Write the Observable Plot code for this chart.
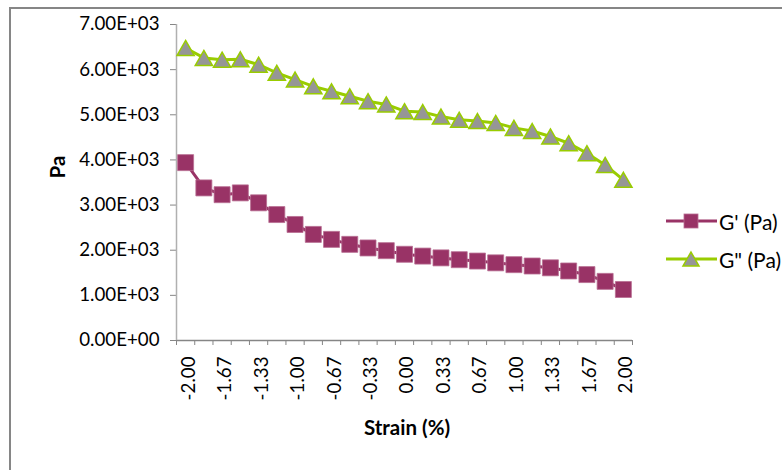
<!DOCTYPE html>
<html>
<head>
<meta charset="utf-8">
<script src="https://cdn.jsdelivr.net/npm/d3@7"></script>
<script src="https://cdn.jsdelivr.net/npm/@observablehq/plot@0.6"></script>
<style>
  html, body { margin: 0; padding: 0; background: #fff; overflow: hidden; }
  #wrap { position: relative; width: 782px; height: 470px; overflow: hidden; font-family: Lato, "Open Sans", sans-serif; color: #000; }
  #frame { position: absolute; left: 9px; top: 7px; width: 900px; height: 600px; border-left: 2px solid #868686; border-top: 2px solid #868686; }
  #chart { position: absolute; left: 0; top: 0; }
  .ytitle { position: absolute; left: 57px; top: 167px; transform: translate(-50%, -50%) rotate(-90deg); font-weight: bold; font-size: 20.5px; white-space: nowrap; }
  .xtitle { position: absolute; left: 407px; top: 427px; transform: translate(-50%, -50%); font-weight: bold; font-size: 20.5px; white-space: nowrap; }
  .legend { position: absolute; left: 666px; font-size: 21px; }
  .legend .row { position: absolute; left: 0; display: flex; align-items: center; white-space: nowrap; }
  .legend svg { display: block; }
  .legend span { margin-left: 2px; }
</style>
</head>
<body>
<div id="wrap">
  <div id="frame"></div>
  <div id="chart"></div>
  <div class="ytitle">Pa</div>
  <div class="xtitle">Strain (%)</div>
  <div class="legend" id="legend"></div>
</div>
<script>
// Category labels (strain, %)
const strainLabels = ["-2.00","-1.83","-1.67","-1.50","-1.33","-1.17","-1.00","-0.83","-0.67","-0.50","-0.33","-0.17","0.00","0.17","0.33","0.50","0.67","0.83","1.00","1.17","1.33","1.50","1.67","1.83","2.00"];
// G' (Pa) storage modulus
const gPrime = [3940,3380,3230,3270,3050,2790,2570,2350,2240,2130,2050,1990,1910,1870,1830,1790,1760,1720,1680,1650,1610,1540,1460,1310,1130];
// G'' (Pa) loss modulus
const gDoublePrime = [6480,6260,6220,6230,6110,5930,5780,5630,5520,5410,5300,5230,5080,5060,4960,4890,4860,4820,4710,4640,4520,4370,4150,3890,3560];
const yTicks = [0,1000,2000,3000,4000,5000,6000,7000];
const seriesNames = ["G' (Pa)", "G\" (Pa)"];

const sci = v => {
  if (v === 0) return "0.00E+00";
  const e = Math.floor(Math.log10(Math.abs(v)));
  return (v / 10 ** e).toFixed(2) + "E" + (e < 0 ? "-" : "+") + String(Math.abs(e)).padStart(2, "0");
};

const idx = strainLabels.map((_, i) => i);
const boundaries = strainLabels.concat([""]).map((_, i) => i - 0.5);
const labelIdx = idx.filter(i => i % 2 === 0);

const dataP = idx.map(i => ({i, v: gPrime[i]}));
const dataDP = idx.map(i => ({i, v: gDoublePrime[i]}));

// triangle centered on its bounding box
const triangle = {
  draw(ctx, size) {
    const h = Math.sqrt(size) * 1.0;
    const w = h * 1.15;
    ctx.moveTo(0, -h / 2);
    ctx.lineTo(w / 2, h / 2);
    ctx.lineTo(-w / 2, h / 2);
    ctx.closePath();
  }
};
const square = {
  draw(ctx, size) {
    const s = Math.sqrt(size) / 2;
    ctx.rect(-s, -s, 2 * s, 2 * s);
  }
};
const rTri = Math.sqrt(15 * 15 / Math.PI);
const rSq = Math.sqrt(16 * 16 / Math.PI);

const plot = Plot.plot({
  width: 782,
  height: 470,
  marginLeft: 176,
  marginRight: 150,
  marginTop: 24,
  marginBottom: 130,
  style: {fontFamily: "Lato, 'Open Sans', sans-serif", fontSize: "18.7px", color: "#000", background: "transparent", overflow: "visible"},
  x: {type: "linear", domain: [-0.5, strainLabels.length - 0.5]},
  y: {domain: [0, 7000]},
  marks: [
    Plot.axisY({ticks: yTicks, tickSize: 6, tickPadding: 11, tickFormat: sci, stroke: "#868686", label: null, fontSize: 18.7}),
    Plot.axisX({ticks: boundaries, tickSize: 5, tickFormat: () => "", stroke: "#868686", label: null}),
    Plot.axisX({ticks: labelIdx, tickSize: 0, tickPadding: 16, tickRotate: -90, dx: 3, tickFormat: i => strainLabels[i], label: null, fontSize: 18.7}),
    Plot.ruleY([0], {stroke: "#868686", strokeWidth: 1.5}),
    Plot.ruleX([-0.5], {stroke: "#b0b0b0", strokeWidth: 1.5}),
    Plot.line(dataP, {x: "i", y: "v", stroke: "#993366", strokeWidth: 3}),
    Plot.line(dataDP, {x: "i", y: "v", stroke: "#99CC00", strokeWidth: 3}),
    Plot.dot(dataP, {x: "i", y: "v", symbol: square, r: rSq, fill: "#993366", stroke: "#b86d92", strokeWidth: 0.8}),
    Plot.dot(dataDP, {x: "i", y: "v", symbol: triangle, r: rTri, fill: "#969696", stroke: "#99CC00", strokeWidth: 1.5})
  ]
});
document.getElementById("chart").appendChild(plot);

// legend
const legend = document.getElementById("legend");
const legendStyles = [
  {stroke: "#993366", fill: "#993366", mark: "square", top: 221},
  {stroke: "#99CC00", fill: "#969696", mark: "triangle", top: 259}
];
seriesNames.forEach((name, k) => {
  const st = legendStyles[k];
  const row = document.createElement("div");
  row.className = "row";
  row.style.top = (st.top - 13) + "px";
  const shape = st.mark === "square"
    ? `<rect x="18" y="6" width="14" height="14" fill="${st.fill}" stroke="#b86d92" stroke-width="0.8"/>`
    : `<path d="M25,6 L33,20 L17,20 Z" fill="${st.fill}" stroke="${st.stroke}" stroke-width="1.5"/>`;
  row.innerHTML = `<svg width="51" height="26"><line x1="0" y1="13" x2="51" y2="13" stroke="${st.stroke}" stroke-width="3"/>${shape}</svg><span>${name}</span>`;
  legend.appendChild(row);
});
</script>
</body>
</html>
